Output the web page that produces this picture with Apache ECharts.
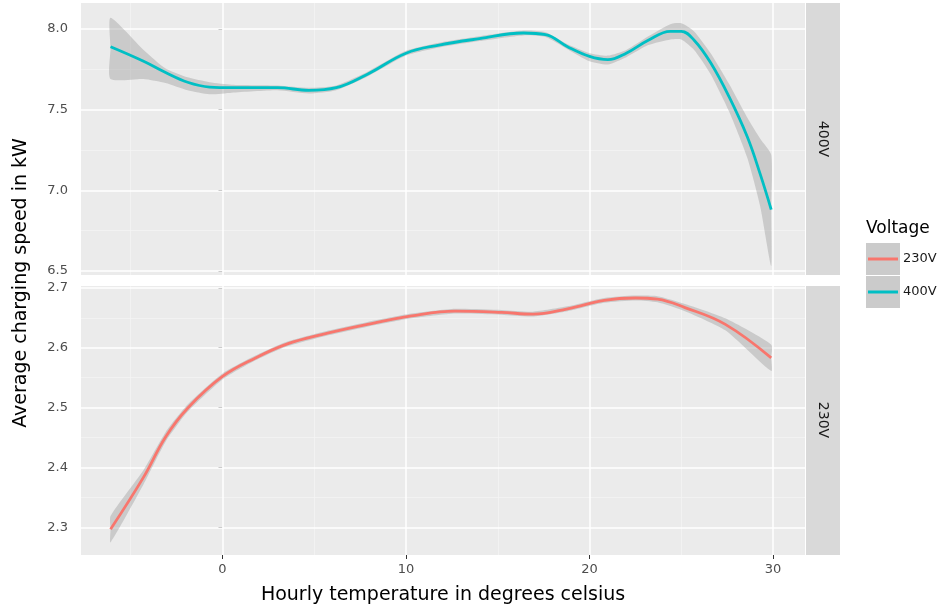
<!DOCTYPE html>
<html>
<head>
<meta charset="utf-8">
<script src="https://cdn.jsdelivr.net/npm/echarts@6/dist/echarts.min.js"></script>
<style>
html, body { margin: 0; padding: 0; background: #fff; }
#main { width: 951px; height: 609px; }
</style>
</head>
<body>
<div id="main"></div>
<script>
// 400V panel: loess fit and its confidence band
var temp400 = [-6.1, -4.3, -3.1, -1.9, -0.7, 0.5, 3.0, 4.7, 6.2, 7.9, 10.0, 11.8, 14.0, 16.4, 17.6, 18.8, 20.0, 21.0, 22.0, 23.2, 24.4, 25.0, 25.7, 26.6, 27.6, 28.6, 29.3, 29.9]
var fit400 = [7.89, 7.80, 7.73, 7.67, 7.64, 7.636, 7.636, 7.62, 7.636, 7.72, 7.85, 7.90, 7.94, 7.975, 7.965, 7.89, 7.83, 7.81, 7.85, 7.93, 7.985, 7.985, 7.93, 7.79, 7.58, 7.33, 7.10, 6.88]
var upper400 = [8.07, 7.87, 7.755, 7.70, 7.67, 7.655, 7.65, 7.635, 7.65, 7.735, 7.865, 7.915, 7.955, 7.99, 7.98, 7.905, 7.85, 7.835, 7.87, 7.955, 8.03, 8.035, 7.985, 7.85, 7.66, 7.45, 7.32, 7.22]
var lower400 = [7.69, 7.69, 7.665, 7.62, 7.595, 7.605, 7.62, 7.60, 7.62, 7.705, 7.835, 7.885, 7.925, 7.96, 7.95, 7.875, 7.80, 7.78, 7.825, 7.90, 7.935, 7.935, 7.87, 7.72, 7.49, 7.20, 6.90, 6.53]

// 230V panel
var temp230 = [-6.1, -4.3, -3.1, -1.9, 0.0, 1.8, 3.5, 5.4, 7.9, 10.3, 12.7, 15.2, 16.9, 18.8, 20.8, 22.5, 23.7, 25.2, 27.4, 29.9]
var fit230 = [2.297, 2.384, 2.451, 2.499, 2.552, 2.583, 2.606, 2.622, 2.639, 2.653, 2.661, 2.659, 2.656, 2.665, 2.679, 2.683, 2.681, 2.667, 2.639, 2.583]
var upper230 = [2.319, 2.396, 2.459, 2.505, 2.557, 2.587, 2.610, 2.626, 2.643, 2.657, 2.665, 2.663, 2.660, 2.669, 2.683, 2.687, 2.686, 2.673, 2.649, 2.605]
var lower230 = [2.275, 2.372, 2.443, 2.493, 2.547, 2.579, 2.602, 2.618, 2.635, 2.649, 2.657, 2.655, 2.652, 2.661, 2.675, 2.679, 2.676, 2.661, 2.629, 2.561]

// ticks and gridlines
var xTicks = [0, 10, 20, 30]
var xMinor = [-5, 5, 15, 25]
var yTicks400 = [6.5, 7.0, 7.5, 8.0]
var yMinor400 = [6.75, 7.25, 7.75]
var yTicks230 = [2.3, 2.4, 2.5, 2.6, 2.7]
var yMinor230 = [2.35, 2.45, 2.55, 2.65]

var FONT = 'DejaVu Sans'
var teal = '#00BFC4'
var salmon = '#F8766D'

function pairs(xs, ys) {
    var out = []
    for (var i = 0; i < xs.length; i++) out.push([xs[i], ys[i]])
    return out
}

function triples(xs, lo, hi) {
    var out = []
    for (var i = 0; i < xs.length; i++) out.push([xs[i], lo[i], hi[i]])
    return out
}

var majorStyle = { color: '#FFFFFF', width: 1.5, type: 'solid' }
var minorStyle = { color: '#F4F4F4', width: 0.8, type: 'solid' }

function gridLines(yMaj, yMin) {
    var d = []
    xMinor.forEach(function (v) { d.push({ xAxis: v, lineStyle: minorStyle }) })
    yMin.forEach(function (v) { d.push({ yAxis: v, lineStyle: minorStyle }) })
    xTicks.forEach(function (v) { d.push({ xAxis: v, lineStyle: majorStyle }) })
    yMaj.forEach(function (v) { d.push({ yAxis: v, lineStyle: majorStyle }) })
    return {
        silent: true,
        z: 1,
        symbol: ['none', 'none'],
        label: { show: false },
        animation: false,
        lineStyle: majorStyle,
        data: d
    }
}

// confidence band: one smooth polygon, upper edge then lower edge reversed
// (a middle point on each end edge keeps the ends square)
function bandRenderer(xs, lo, hi) {
    return function (params, api) {
        if (params.dataIndexInside !== 0) return
        var n = xs.length
        var top = [], bot = []
        for (var i = 0; i < n; i++) {
            top.push(api.coord([xs[i], hi[i]]))
            bot.push(api.coord([xs[i], lo[i]]))
        }
        bot.reverse()
        var endMid = api.coord([xs[n - 1], (hi[n - 1] + lo[n - 1]) / 2])
        var startMid = api.coord([xs[0], (hi[0] + lo[0]) / 2])
        var pts = top.concat([endMid]).concat(bot).concat([startMid])
        return {
            type: 'polygon',
            shape: { points: pts, smooth: 0.2 },
            style: { fill: 'rgba(153,153,153,0.4)' }
        }
    }
}

function panelSeries(name, idx, xs, fit, hi, lo, color, yMaj, yMin) {
    return [
        {
            name: name + ' band', type: 'custom', xAxisIndex: idx, yAxisIndex: idx,
            renderItem: bandRenderer(xs, lo, hi), z: 2, silent: true,
            data: triples(xs, lo, hi)
        },
        {
            name: name, type: 'line', xAxisIndex: idx, yAxisIndex: idx,
            smooth: 0.4, showSymbol: false, z: 3, color: color,
            lineStyle: { width: 2.8, color: color },
            data: pairs(xs, fit),
            markLine: gridLines(yMaj, yMin)
        }
    ]
}

var myChart = echarts.init(document.getElementById('main'))

var option = {
    animation: false,
    textStyle: { fontFamily: FONT },
    title: {
        text: 'Voltage', left: 866, top: 220, padding: 0,
        textStyle: { fontSize: 17, fontWeight: 'normal', color: '#000', fontFamily: FONT }
    },
    legend: {
        orient: 'vertical', left: 868, top: 243, padding: 0,
        itemWidth: 30, itemHeight: 3, itemGap: 1, icon: 'rect',
        data: ['230V', '400V'],
        textStyle: { fontSize: 13, color: '#1A1A1A', lineHeight: 32, fontFamily: FONT }
    },
    grid: [
        { left: 81, top: 3, width: 724, height: 272, show: true, backgroundColor: '#EBEBEB', borderWidth: 0 },
        { left: 81, top: 286, width: 724, height: 269, show: true, backgroundColor: '#EBEBEB', borderWidth: 0 }
    ],
    xAxis: [
        {
            gridIndex: 0, type: 'value', min: -7.71, max: 31.74,
            axisLine: { show: false }, axisTick: { show: false },
            axisLabel: { show: false }, splitLine: { show: false }
        },
        {
            gridIndex: 1, type: 'value', min: -7.71, max: 31.74,
            axisLine: { show: false },
            axisTick: { show: true, length: 4, customValues: xTicks, lineStyle: { color: '#333333' } },
            axisLabel: { customValues: xTicks, margin: 8, fontSize: 13, color: '#4D4D4D' },
            splitLine: { show: false },
            name: 'Hourly temperature in degrees celsius',
            nameLocation: 'middle', nameGap: 31,
            nameTextStyle: { fontSize: 19, color: '#000', fontFamily: FONT }
        }
    ],
    yAxis: [
        {
            gridIndex: 0, type: 'value', min: 6.475, max: 8.161,
            axisLine: { show: false },
            axisTick: { show: true, length: 4, customValues: yTicks400, lineStyle: { color: '#333333' } },
            axisLabel: {
                customValues: yTicks400, margin: 13, fontSize: 13, color: '#4D4D4D',
                formatter: function (v) { return v.toFixed(1) }
            },
            splitLine: { show: false }
        },
        {
            gridIndex: 1, type: 'value', min: 2.254, max: 2.703,
            axisLine: { show: false },
            axisTick: { show: true, length: 4, customValues: yTicks230, lineStyle: { color: '#333333' } },
            axisLabel: {
                customValues: yTicks230, margin: 13, fontSize: 13, color: '#4D4D4D',
                formatter: function (v) { return v.toFixed(1) }
            },
            splitLine: { show: false }
        }
    ],
    graphic: [
        { type: 'rect', shape: { x: 806, y: 3, width: 34, height: 272 }, style: { fill: '#D9D9D9' }, z: -1 },
        { type: 'rect', shape: { x: 806, y: 286, width: 34, height: 269 }, style: { fill: '#D9D9D9' }, z: -1 },
        {
            type: 'text', x: 823, y: 139, rotation: -Math.PI / 2,
            style: { text: '400V', x: 0, y: 0, textAlign: 'center', textVerticalAlign: 'middle', fontSize: 14, fontFamily: FONT, fill: '#1A1A1A' }
        },
        {
            type: 'text', x: 823, y: 420, rotation: -Math.PI / 2,
            style: { text: '230V', x: 0, y: 0, textAlign: 'center', textVerticalAlign: 'middle', fontSize: 14, fontFamily: FONT, fill: '#1A1A1A' }
        },
        {
            type: 'text', x: 21, y: 283, rotation: Math.PI / 2,
            style: { text: 'Average charging speed in kW', x: 0, y: 0, textAlign: 'center', textVerticalAlign: 'middle', fontSize: 19, fontFamily: FONT, fill: '#000' }
        },
        // legend key backgrounds
        { type: 'rect', shape: { x: 866, y: 243, width: 34, height: 32 }, style: { fill: '#CBCBCB' }, z: -1 },
        { type: 'rect', shape: { x: 866, y: 276, width: 34, height: 32 }, style: { fill: '#CBCBCB' }, z: -1 }
    ],
    series: []
}

option.series = option.series
    .concat(panelSeries('400V', 0, temp400, fit400, upper400, lower400, teal, yTicks400, yMinor400))
    .concat(panelSeries('230V', 1, temp230, fit230, upper230, lower230, salmon, yTicks230, yMinor230))

myChart.setOption(option)
</script>
</body>
</html>
